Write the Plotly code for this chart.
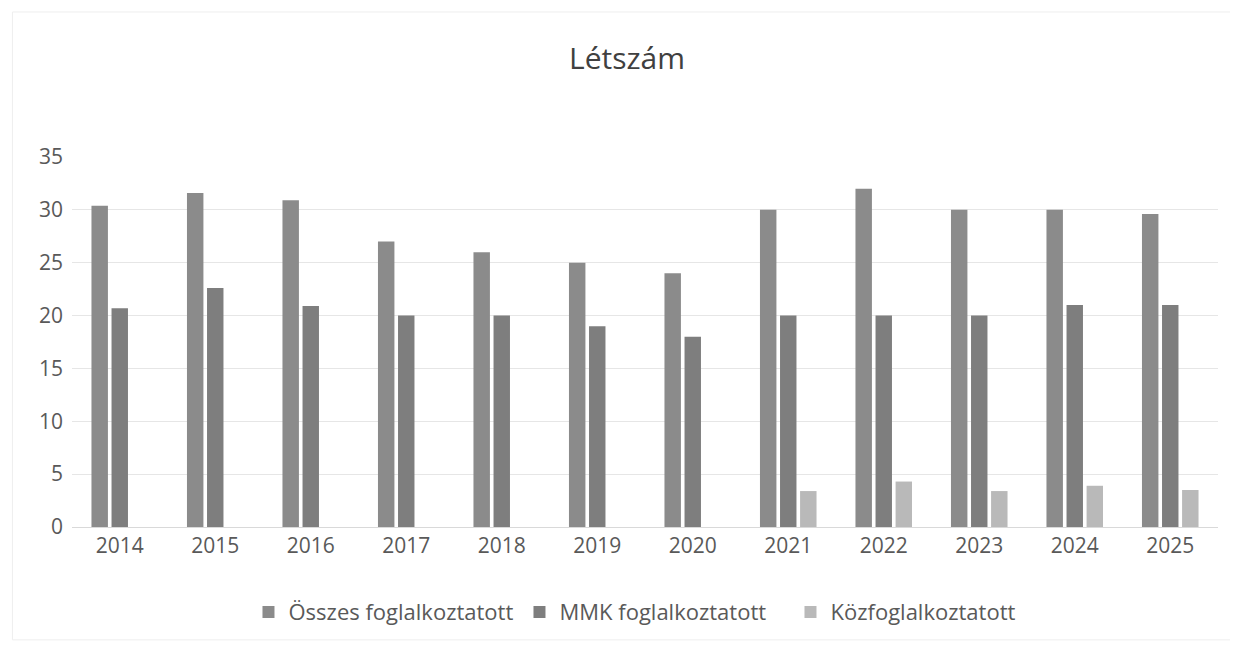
import plotly.graph_objects as go

years = ["2014", "2015", "2016", "2017", "2018", "2019", "2020",
         "2021", "2022", "2023", "2024", "2025"]
osszes = [30.4, 31.6, 30.9, 27, 26, 25, 24, 30, 32, 30, 30, 29.6]
mmk = [20.7, 22.6, 20.9, 20, 20, 19, 18, 20, 20, 20, 21, 21]
kozf = [None, None, None, None, None, None, None, 3.4, 4.3, 3.4, 3.9, 3.5]

names = ["Összes foglalkoztatott", "MMK foglalkoztatott", "Közfoglalkoztatott"]
colors = ["#8b8b8b", "#7e7e7e", "#b9b9b9"]

fig = go.Figure()
for name, vals, col in zip(names, [osszes, mmk, kozf], colors):
    fig.add_trace(go.Bar(x=years, y=vals, name=name, marker_color=col,
                         marker_line_width=0))

font_fam = "Open Sans, DejaVu Sans, sans-serif"
fig.update_layout(
    width=1238, height=647,
    paper_bgcolor="white", plot_bgcolor="white",
    margin=dict(l=64, r=28, t=149, b=128),
    title=dict(text="Létszám", x=0.5, xanchor="center", y=1 - 50 / 647, yanchor="middle",
               font=dict(family=font_fam, size=30, color="#404040")),
    barmode="group", bargap=0.37, bargroupgap=0.18,
    font=dict(family=font_fam, color="#595959"),
    legend=dict(orientation="h", x=0.154, xanchor="left", y=-0.23, yanchor="middle",
                font=dict(size=22, color="#595959"), itemwidth=30,
                entrywidth=226, entrywidthmode="pixels",
                traceorder="normal"),
    xaxis=dict(showgrid=False, showline=True, linecolor="#d9d9d9", linewidth=1,
               ticks="", tickfont=dict(size=21, color="#595959")),
    yaxis=dict(range=[0, 35], dtick=5, showgrid=True, gridcolor="#e6e6e6",
               gridwidth=1, zeroline=False, ticks="", showline=False,
               tickfont=dict(size=21, color="#595959"), ticklabelstandoff=8),
    shapes=[dict(type="rect", xref="paper", yref="paper",
                 x0=-0.052, x1=1.012, y0=-0.305, y1=1.392,
                 line=dict(color="#eeeeee", width=1))],
)

fig.write_html("out.html")
